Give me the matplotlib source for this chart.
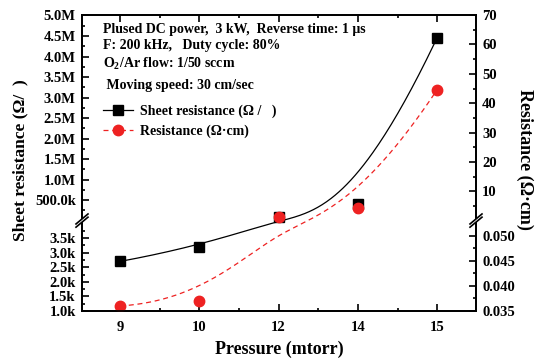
import numpy as np
import matplotlib.pyplot as plt
from matplotlib.patches import Polygon

plt.rcParams['font.family'] = ['Liberation Serif', 'DejaVu Serif']
plt.rcParams['font.weight'] = 'bold'
plt.rcParams['axes.labelweight'] = 'bold'
plt.rcParams['mathtext.fontset'] = 'custom'
plt.rcParams['mathtext.rm'] = 'Liberation Serif:bold'
plt.rcParams['mathtext.bf'] = 'Liberation Serif:bold'

# data
pressure_labels = ['9', '10', '12', '14', '15']
sheet_resistance = [2.7e3, 3.2e3, 0.08e6, 0.40e6, 4.46e6]   # ohm/sq
resistivity = [0.036, 0.037, 1.2, 4.2, 44.6]               # ohm cm

left_ticks = [1.0e3, 1.5e3, 2.0e3, 2.5e3, 3.0e3, 3.5e3,
              0.5e6, 1.0e6, 1.5e6, 2.0e6, 2.5e6, 3.0e6, 3.5e6, 4.0e6, 4.5e6, 5.0e6]
left_labels = ['1.0k', '1.5k', '2.0k', '2.5k', '3.0k', '3.5k',
               '500.0k', '1.0M', '1.5M', '2.0M', '2.5M', '3.0M', '3.5M', '4.0M', '4.5M', '5.0M']
left_minor = [1.25e3, 1.75e3, 2.25e3, 2.75e3, 3.25e3, 3.75e3,
              0.25e6, 0.75e6, 1.25e6, 1.75e6, 2.25e6, 2.75e6, 3.25e6, 3.75e6, 4.25e6, 4.75e6]
right_ticks = [0.035, 0.040, 0.045, 0.050, 10, 20, 30, 40, 50, 60, 70]
right_labels = ['0.035', '0.040', '0.045', '0.050', '10', '20', '30', '40', '50', '60', '70']
right_minor = [0.0375, 0.0425, 0.0475, 5, 15, 25, 35, 45, 55, 65]

notes = ['Plused DC power,  3 kW,  Reverse time: 1 \u03bcs',
         'F: 200 kHz,   Duty cycle: 80%',
         'O$_\\mathregular{2}$/Ar flow: 1/50 sccm',
         ' Moving speed: 30 cm/sec']

# broken axis: lower segment takes this fraction of the height
low_frac = 0.305
left_knots = [1.0e3, 4.1e3, 5.024e6]
right_knots = [0.035, 0.053, 70.2]


def piecewise(xp, fp):
    xp = np.asarray(xp, float)
    fp = np.asarray(fp, float)

    def f(v):
        v = np.asarray(v, float)
        out = np.interp(v, xp, fp)
        lo_slope = (fp[1] - fp[0]) / (xp[1] - xp[0])
        hi_slope = (fp[-1] - fp[-2]) / (xp[-1] - xp[-2])
        out = np.where(v < xp[0], fp[0] + (v - xp[0]) * lo_slope, out)
        out = np.where(v > xp[-1], fp[-1] + (v - xp[-1]) * hi_slope, out)
        return out
    return f


def bspline(px, py, n=300):
    # clamped cubic B-spline, control points = data points
    k = 3
    m = len(px)
    knots = np.concatenate([np.zeros(k), np.linspace(0, 1, m - k + 1), np.ones(k)])
    t = np.linspace(0, 1, n)
    t[-1] -= 1e-9

    def basis(i, d):
        if d == 0:
            return ((knots[i] <= t) & (t < knots[i + 1])).astype(float)
        out = np.zeros_like(t)
        if knots[i + d] > knots[i]:
            out += (t - knots[i]) / (knots[i + d] - knots[i]) * basis(i, d - 1)
        if knots[i + d + 1] > knots[i + 1]:
            out += (knots[i + d + 1] - t) / (knots[i + d + 1] - knots[i + 1]) * basis(i + 1, d - 1)
        return out

    N = np.array([basis(i, k) for i in range(m)])
    return N.T @ np.asarray(px, float), N.T @ np.asarray(py, float)


fwd_l = piecewise(left_knots, [0, low_frac, 1])
inv_l = piecewise([0, low_frac, 1], left_knots)
fwd_r = piecewise(right_knots, [0, low_frac, 1])
inv_r = piecewise([0, low_frac, 1], right_knots)

x = np.arange(len(pressure_labels))

fig = plt.figure(figsize=(5.35, 3.61), dpi=100)
ax = fig.add_axes([82 / 535, 50 / 361, 394 / 535, 296.5 / 361])
ax2 = ax.twinx()

ax.set_yscale('function', functions=(fwd_l, inv_l))
ax2.set_yscale('function', functions=(fwd_r, inv_r))
ax.set_ylim(left_knots[0], left_knots[-1])
ax2.set_ylim(right_knots[0], right_knots[-1])
ax.set_xlim(-0.48, 4.49)

# smooth B-spline connections computed in display space
cx, cy = bspline(x, fwd_l(sheet_resistance))
ax.plot(cx, inv_l(cy), color='black', lw=0.9)
ax.plot(x, sheet_resistance, ls='none', marker='s', ms=6.5, color='black')
rx, ry = bspline(x, fwd_r(resistivity))
ax2.plot(rx, inv_r(ry), color='#ee2222', lw=0.9, dashes=(4, 3))
ax2.plot(x, resistivity, ls='none', marker='o', ms=7.5, color='#ee2222')

ax.set_xticks(x, pressure_labels)
ax.set_xticks([0.5, 1.5, 2.5, 3.5], minor=True)
ax.set_yticks(left_ticks, left_labels)
ax.set_yticks(left_minor, minor=True)
ax2.set_yticks(right_ticks, right_labels)
ax2.set_yticks(right_minor, minor=True)

ax.tick_params(which='both', direction='in', top=True, width=1.2, labelsize=10.5)
ax.tick_params(which='major', length=5)
ax.tick_params(which='minor', length=2.5)
ax.tick_params(axis='y', pad=4.5)
ax.tick_params(axis='x', pad=7)
ax2.tick_params(which='both', direction='in', width=1.2, labelsize=10.5, pad=4.5)
ax2.tick_params(which='major', length=5)
ax2.tick_params(which='minor', length=2.5)
for a in (ax, ax2):
    for sp in a.spines.values():
        sp.set_linewidth(1.3)

ax.set_xlabel('Pressure (mtorr)', fontsize=13, va='center')
ax.xaxis.set_label_coords(0.5, -0.131)
ax.set_ylabel('Sheet resistance (\u03a9/  )', fontsize=12.5, va='center')
ax.yaxis.set_label_coords(-0.157, 0.51)
ax2.set_ylabel('Resistance (\u03a9\u00b7cm)', fontsize=13, rotation=-90, va='center')
ax2.yaxis.set_label_coords(1.124, 0.51)

# break symbols on both y spines
px_x, px_y = 1 / 394, 1 / 296.5
for xs in (0, 1):
    dx, dy, g = 6 * px_x, 5 * px_y, 1.6 * px_y
    ax2.add_patch(Polygon([(xs - dx, low_frac - dy - g), (xs + dx, low_frac + dy - g),
                           (xs + dx, low_frac + dy + g), (xs - dx, low_frac - dy + g)],
                          closed=True, transform=ax2.transAxes, facecolor='white',
                          edgecolor='none', clip_on=False, zorder=6))
    for off in (-g, g):
        ax2.plot([xs - dx, xs + dx], [low_frac - dy + off, low_frac + dy + off],
                 transform=ax2.transAxes, color='black', lw=1.2, clip_on=False, zorder=7)

note_y = [0.951, 0.894, 0.833, 0.759]
for txt, ty in zip(notes, note_y):
    ax2.text(0.053, ty, txt, transform=ax2.transAxes, fontsize=10, va='center', ha='left')

h1 = ax.plot([], [], color='black', lw=0.9, marker='s', ms=6.5)[0]
h2 = ax2.plot([], [], color='#ee2222', lw=0.9, dashes=(4, 3), marker='o', ms=7.5)[0]
ax2.legend([h1, h2], ['Sheet resistance (\u03a9 /   )', 'Resistance (\u03a9\u00b7cm)'],
           loc='upper left', bbox_to_anchor=(0.053, 0.695), frameon=False, fontsize=10,
           handlelength=2.2, handletextpad=0.5, labelspacing=0.45, borderpad=0,
           borderaxespad=0)

fig.savefig('out.png', dpi=100)
